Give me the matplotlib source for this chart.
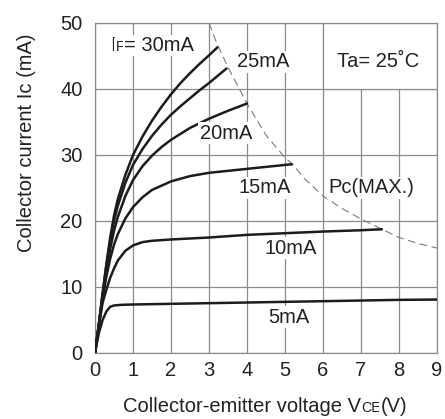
import matplotlib
matplotlib.use("Agg")
import matplotlib.pyplot as plt
from matplotlib.patches import Rectangle

plt.rcParams["font.family"] = ["Liberation Sans", "DejaVu Sans"]

# Ic vs VCE curves (V, mA)
v_30 = [0, 0.1, 0.2, 0.3, 0.4, 0.5, 0.6, 0.8, 1.0, 1.25, 1.5, 1.75, 2.0, 2.25, 2.5, 2.75, 3.0, 3.22]
i_30 = [0, 4.3, 9.0, 13.5, 17.5, 20.8, 23.3, 27.0, 30.0, 32.8, 35.2, 37.3, 39.2, 40.9, 42.4, 43.8, 45.1, 46.3]

v_25 = [0, 0.1, 0.2, 0.3, 0.4, 0.5, 0.6, 0.8, 1.0, 1.25, 1.5, 1.75, 2.0, 2.25, 2.5, 2.75, 3.0, 3.25, 3.46]
i_25 = [0, 4.3, 9.0, 13.3, 17.0, 20.0, 22.3, 25.8, 28.5, 30.9, 32.9, 34.6, 36.1, 37.4, 38.6, 39.8, 40.9, 42.1, 43.1]

v_20 = [0, 0.1, 0.2, 0.3, 0.4, 0.5, 0.6, 0.8, 1.0, 1.25, 1.5, 1.75, 2.0, 2.5, 3.0, 3.5, 4.0]
i_20 = [0, 4.2, 8.6, 12.5, 15.8, 18.5, 20.6, 23.8, 26.2, 28.3, 29.9, 31.2, 32.3, 34.1, 35.5, 36.7, 37.8]

v_15 = [0, 0.1, 0.2, 0.3, 0.4, 0.5, 0.6, 0.8, 1.0, 1.25, 1.5, 2.0, 2.5, 3.0, 3.5, 4.0, 4.5, 5.18]
i_15 = [0, 4.1, 8.2, 11.6, 14.3, 16.4, 18.0, 20.4, 22.1, 23.6, 24.7, 26.0, 26.8, 27.3, 27.6, 27.9, 28.2, 28.6]

v_10 = [0, 0.1, 0.2, 0.3, 0.4, 0.5, 0.6, 0.8, 1.0, 1.25, 1.5, 2, 3, 4, 5, 6, 7, 7.55]
i_10 = [0, 4.0, 7.6, 9.6, 11.4, 12.8, 14.0, 15.5, 16.3, 16.8, 17.0, 17.2, 17.5, 17.9, 18.15, 18.4, 18.6, 18.75]

v_5 = [0, 0.1, 0.2, 0.3, 0.4, 0.5, 0.7, 1, 2, 3, 4, 5, 6, 7, 8, 9]
i_5 = [0, 3.0, 5.0, 6.3, 7.0, 7.2, 7.3, 7.35, 7.45, 7.55, 7.65, 7.75, 7.85, 7.95, 8.05, 8.1]

# collector power dissipation limit
v_pc = [3.0, 3.2, 3.5, 4.0, 4.5, 5.0, 5.2, 5.5, 6.0, 6.5, 7.0, 7.5, 8.0, 8.5, 9.0]
i_pc = [50.0, 47.0, 43.3, 37.8, 33.0, 29.6, 28.6, 26.5, 23.8, 21.9, 20.3, 18.9, 17.5, 16.6, 15.9]

curves = [(v_30, i_30), (v_25, i_25), (v_20, i_20), (v_15, i_15), (v_10, i_10), (v_5, i_5)]

# curve labels: text pieces (text, size scale), anchor (V, Ic)
curve_labels = [
    ([("I", 1.0), ("F", 0.7), ("= 30mA", 1.0)], 0.4, 46.6),
    ([("25mA", 1.0)], 3.74, 44.1),
    ([("20mA", 1.0)], 2.76, 33.3),
    ([("15mA", 1.0)], 3.77, 25.0),
    ([("Pc(MAX.)", 1.0)], 6.13, 25.0),
    ([("10mA", 1.0)], 4.47, 15.9),
    ([("5mA", 1.0)], 4.55, 5.45),
]

FS = 14.5
LINE = "#1c1c1c"
GRIDC = "#8c8c8c"
TXT = "#222222"


def pieces_text(ax, x, y, parts, transform=None, size=FS):
    """Draw text made of pieces with different sizes sharing one baseline."""
    kw = dict(color=TXT, va="center", ha="left", fontsize=size * parts[0][1],
              bbox=dict(facecolor="white", edgecolor="none", pad=1.0), zorder=5)
    if transform is not None:
        kw["transform"] = transform
    first = ax.text(x, y, parts[0][0], **kw)
    prev = first
    for txt, sc in parts[1:]:
        small = size * sc
        prev = ax.annotate(txt, xy=(1, 0), xycoords=(prev, first),
                           xytext=(0, 0.21 * (size - small)), textcoords="offset points",
                           va="bottom", ha="left", fontsize=small, color=TXT,
                           bbox=dict(facecolor="white", edgecolor="none", pad=1.0), zorder=5)
    return first


fig = plt.figure(figsize=(4.45, 4.19), dpi=100)
ax = fig.add_axes([95 / 445, 1 - 353 / 419, 342 / 445, 330 / 419])

ax.set_xlim(0, 9)
ax.set_ylim(0, 50)
ax.set_xticks(range(0, 10))
ax.set_yticks(range(0, 51, 10))
ax.tick_params(length=0, labelsize=FS, colors=TXT)
ax.tick_params(axis="y", pad=9)
ax.tick_params(axis="x", pad=6)
ax.set_axisbelow(True)
ax.grid(True, color=GRIDC, linewidth=0.9)
for s in ax.spines.values():
    s.set_color(GRIDC)
    s.set_linewidth(0.9)

# blank box behind the ambient temperature note
ax.add_patch(Rectangle((6, 40), 3, 10, facecolor="white", edgecolor=GRIDC,
                       linewidth=0.9, zorder=1))

for v, i in curves:
    ax.plot(v, i, color=LINE, linewidth=1.8, solid_joinstyle="round",
            solid_capstyle="round", zorder=3)

ax.plot(v_pc, i_pc, color="#7a7a7a", linewidth=0.8, dashes=(7, 4), zorder=2)

for parts, x, y in curve_labels:
    pieces_text(ax, x, y, parts)

ax.text(6.37, 44.1, "Ta= 25˚C", fontsize=FS, color=TXT, va="center", ha="left", zorder=5)

ax.text(-0.199, 0.636, "Collector current Ic (mA)", transform=ax.transAxes,
        rotation=90, fontsize=FS, color=TXT, ha="center", va="center")
pieces_text(ax, 0.082, -0.163, [("Collector-emitter voltage V", 1.0), ("CE", 0.7), ("(V)", 1.0)],
            transform=ax.transAxes)

fig.savefig("out.png", dpi=100)
